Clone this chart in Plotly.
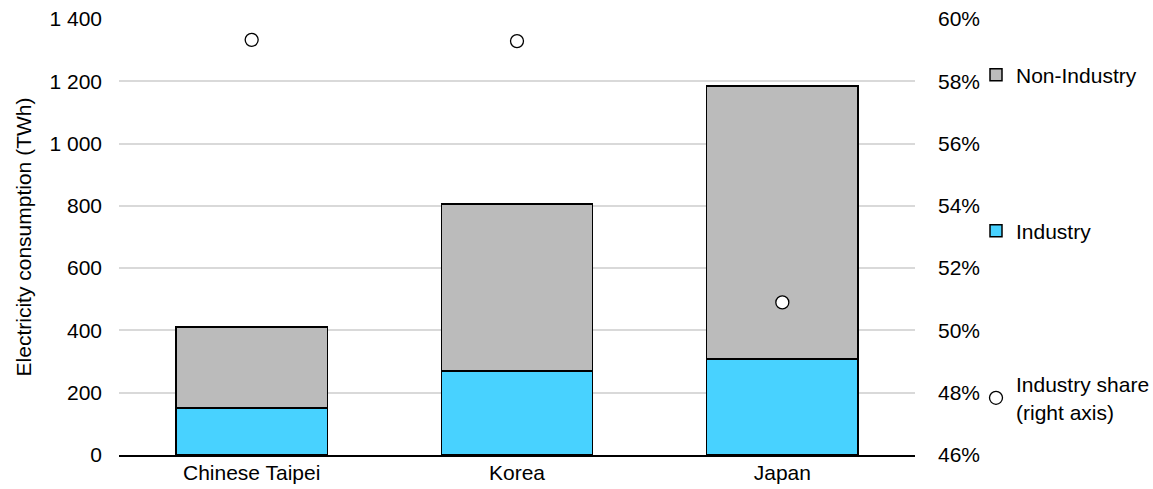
import plotly.graph_objects as go

# Electricity consumption by economy (TWh) and industry share
economies = ["Chinese Taipei", "Korea", "Japan"]
industry_twh = [151, 270, 308]
non_industry_twh = [260, 536, 877]
industry_share = [0.5933, 0.5929, 0.509]

FONT = "Liberation Sans, Arial, sans-serif"
FS = 21
W, H = 1153, 489

fig = go.Figure()

fig.add_trace(go.Bar(
    x=economies, y=industry_twh, name="Industry",
    marker=dict(color="#48D2FF", line=dict(color="#000000", width=1.5)),
    legend="legend2",
))
fig.add_trace(go.Bar(
    x=economies, y=non_industry_twh, name="Non-Industry",
    marker=dict(color="#BBBBBB", line=dict(color="#000000", width=1.5)),
    legend="legend",
))
fig.add_trace(go.Scatter(
    x=economies, y=industry_share, name="Industry share<br>(right axis)",
    mode="markers", yaxis="y2",
    marker=dict(symbol="circle", size=13, color="#FFFFFF",
                line=dict(color="#000000", width=1.3)),
    legend="legend3",
))


def legend_at(px, py):
    return dict(
        xref="container", yref="container",
        x=px / W, y=1 - py / H, xanchor="left", yanchor="middle",
        font=dict(family=FONT, size=FS, color="#000000"),
        bgcolor="rgba(0,0,0,0)", itemwidth=30,
    )


fig.update_layout(
    width=W, height=H,
    margin=dict(l=119, r=238, t=19, b=34, autoexpand=False),
    plot_bgcolor="#FFFFFF", paper_bgcolor="#FFFFFF",
    barmode="stack", bargap=0.43,
    separators=". ",
    font=dict(family=FONT, size=FS, color="#000000"),
    showlegend=True,
    legend=legend_at(976, 75),
    legend2=legend_at(976, 231),
    legend3=legend_at(976, 398),
    xaxis=dict(
        showline=True, linecolor="#000000", linewidth=1.5,
        ticks="", ticklabelstandoff=-2, automargin=False,
        tickfont=dict(family=FONT, size=FS),
    ),
    yaxis=dict(
        range=[0, 1400], dtick=200, tickformat=",",
        showgrid=True, gridcolor="#D9D9D9", gridwidth=1.5,
        zeroline=False, ticks="", ticklabelstandoff=16, automargin=False,
        title=dict(text="Electricity consumption (TWh)", standoff=12,
                   font=dict(family=FONT, size=FS)),
        tickfont=dict(family=FONT, size=FS),
    ),
    yaxis2=dict(
        range=[0.46, 0.60], dtick=0.02, tickformat=".0%",
        overlaying="y", side="right", showgrid=False, zeroline=False,
        ticks="", ticklabelstandoff=22, automargin=False,
        tickfont=dict(family=FONT, size=FS),
    ),
)

fig.write_html("out.html")
